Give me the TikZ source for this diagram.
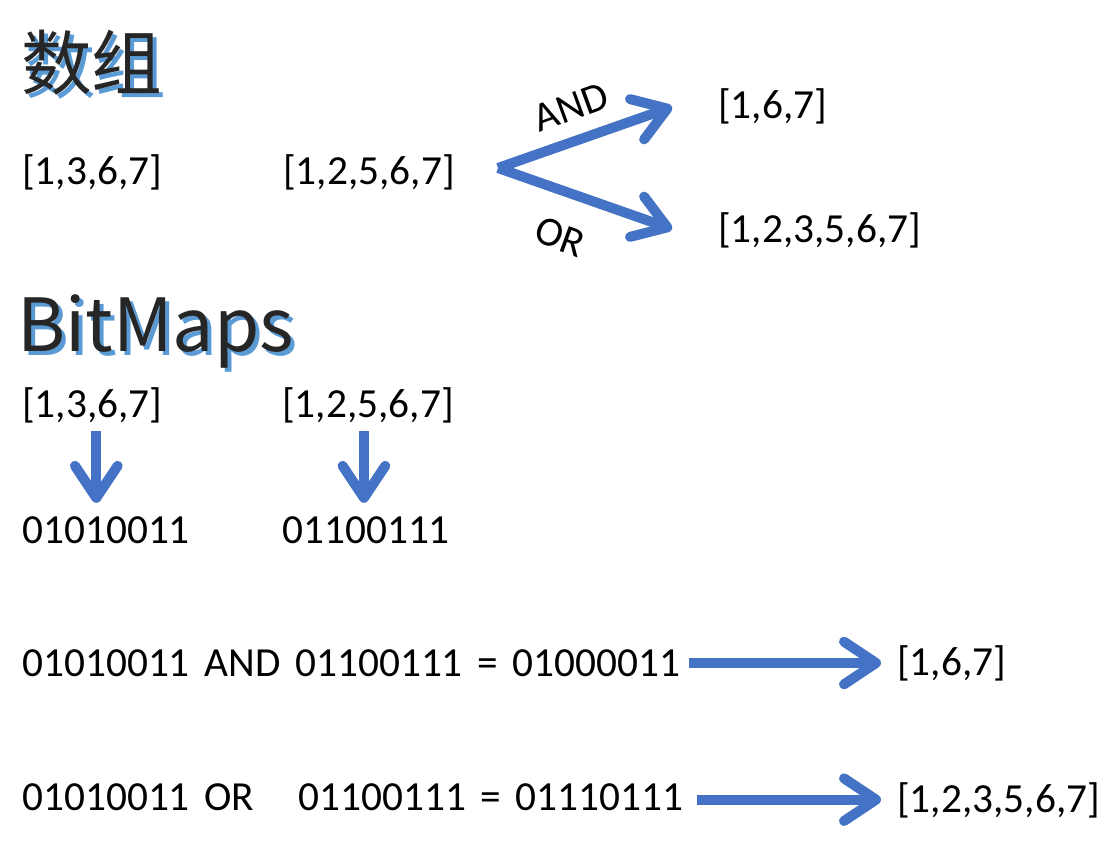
\documentclass[tikz,border=0pt]{standalone}
\usepackage{fontspec}
\setmainfont{Carlito}
\newfontfamily\cjk{Noto Sans CJK SC}
\usetikzlibrary{arrows.meta,positioning}
\definecolor{arrowblue}{HTML}{4472C4}
\definecolor{shadowblue}{HTML}{5B9BD5}
\definecolor{titlegray}{HTML}{262626}
\newcommand{\shadowtext}[1]{\makebox[0pt][l]{\hspace{3pt}\raisebox{-3pt}{\textcolor{shadowblue}{#1}}}#1}
\newcommand{\widesp}{\spaceskip=11pt plus 1pt\relax}

\begin{document}
\begin{tikzpicture}[x=0.75pt,y=-0.75pt,
    txt/.style={anchor=west,inner sep=0pt,font=\fontsize{31}{36}\selectfont\widesp},
    heading/.style={anchor=west,inner sep=0pt,text=titlegray,font=\cjk\fontsize{53}{60}\selectfont},
    arr/.style={arrowblue,line width=7.5pt,line join=round,-{Straight Barb[length=24pt,width=32pt,round]}}
]
\useasboundingbox (0,0) rectangle (1114,842);
% arrays
\node[heading] (arraytitle) at (21,65) {\shadowtext{数组}};
\node[txt] (a1) at (22,172) {[1,3,6,7]};
\node[txt] (a2) at (283,172) {[1,2,5,6,7]};
\coordinate (fork) at (498,168);
\coordinate (andtip) at (672,107);
\coordinate (ortip) at (672,229);
\node[txt] (andres) at (718,106) {[1,6,7]};
\node[txt] (orres) at (718,230) {[1,2,3,5,6,7]};
\draw[arr] (fork) -- (andtip);
\draw[arr] (fork) -- (ortip);
\node[txt,anchor=center,rotate=20] (andlbl) at (571,107) {AND};
\node[txt,anchor=center,rotate=-20] (orlbl) at (560,237) {OR};
% bitmaps
\node[heading,font=\cjk\fontsize{55}{60}\selectfont] (bittitle) at (17,333) {\shadowtext{BitMaps}};
\node[txt] (b1) at (22,405) {[1,3,6,7]};
\node[txt] (b2) at (282,405) {[1,2,5,6,7]};
\node[txt] (c1) at (22,530) {01010011};
\node[txt] (c2) at (282,530) {01100111};
\draw[arr,shorten <=6pt,shorten >=10pt] ([xshift=3pt]b1.south) -- ([xshift=3pt]b1.south |- c1.north);
\draw[arr,shorten <=6pt,shorten >=10pt] ([xshift=-3pt]b2.south) -- ([xshift=-3pt]b2.south |- c2.north);
\node[txt] (e1) at (22,663) {01010011 AND 01100111 = 01000011};
\node[txt] (e2) at (22,797) {01010011 OR\ \ \ 01100111 = 01110111};
\node[txt] (r1) at (897,663) {[1,6,7]};
\node[txt] (r2) at (897,800) {[1,2,3,5,6,7]};
\draw[arr,shorten <=6pt,shorten >=12pt] (e1.east) -- (e1.east -| r1.west);
\draw[arr,shorten <=10pt,shorten >=12pt] ([yshift=-2pt]e2.east) -- ([yshift=-2pt]e2.east -| r2.west);
\end{tikzpicture}
\end{document}
